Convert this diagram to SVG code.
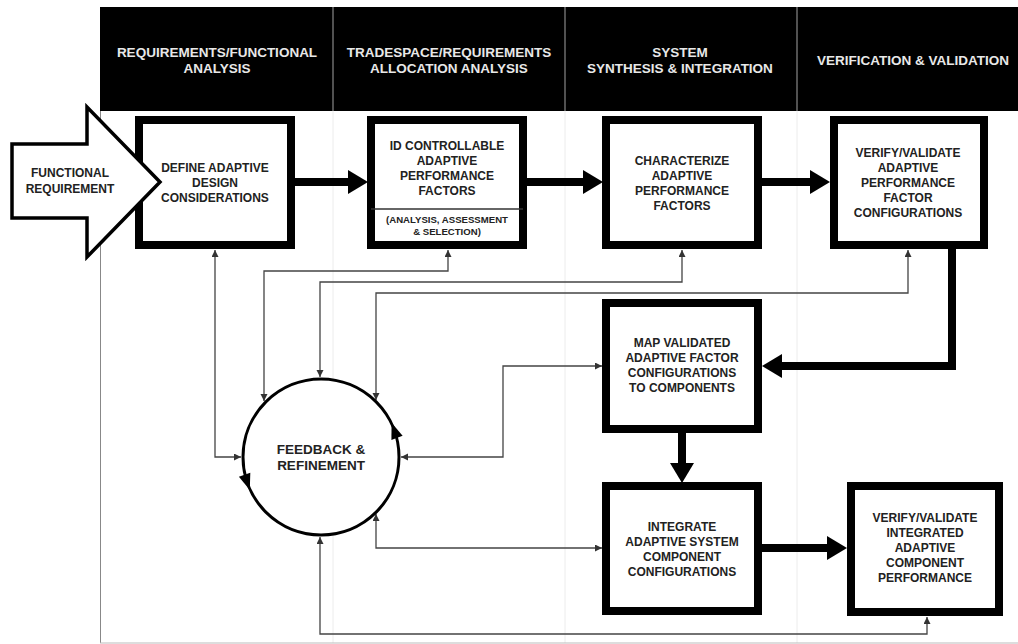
<svg xmlns="http://www.w3.org/2000/svg" width="1018" height="644" viewBox="0 0 1018 644">
<style>
.hdr{font-family:"Liberation Sans",Arial,sans-serif;font-weight:bold;font-size:13.5px;fill:#e8e8e8;text-anchor:middle}
.t{font-family:"Liberation Sans",Arial,sans-serif;font-weight:bold;font-size:12px;fill:#222;text-anchor:middle}
.s{font-family:"Liberation Sans",Arial,sans-serif;font-weight:bold;font-size:9.6px;fill:#222;text-anchor:middle}
.c{font-family:"Liberation Sans",Arial,sans-serif;font-weight:bold;font-size:13.5px;fill:#222;text-anchor:middle}
.box{fill:#fff;stroke:#000;stroke-width:8}
.thick{fill:none;stroke:#000;stroke-width:8;stroke-linejoin:miter}
.thin{fill:none;stroke:#444;stroke-width:1.3}
.lane{stroke:#ececec;stroke-width:1}
</style>
<defs>
<marker id="big" markerUnits="userSpaceOnUse" markerWidth="20" markerHeight="24" refX="0" refY="12" orient="auto">
<path d="M0,0 L20,12 L0,24 z" fill="#000"/>
</marker>
<marker id="sm" markerUnits="userSpaceOnUse" markerWidth="8" markerHeight="8" refX="7" refY="3.5" orient="auto-start-reverse">
<path d="M0,0 L7,3.5 L0,7 z" fill="#333"/>
</marker>
</defs>
<rect x="0" y="0" width="1018" height="644" fill="#fff"/>
<g id="frame">
<line class="lane" x1="333" y1="111" x2="333" y2="643"/>
<line class="lane" x1="565" y1="111" x2="565" y2="643"/>
<line class="lane" x1="797" y1="111" x2="797" y2="643"/>
<line x1="100.5" y1="7" x2="100.5" y2="643" stroke="#888" stroke-width="1"/>
<line x1="100" y1="643" x2="1018" y2="643" stroke="#bbb" stroke-width="1"/>
</g>
<g id="header">
<rect x="100" y="7" width="918" height="104" fill="#000"/>
<line x1="333" y1="7" x2="333" y2="111" stroke="#888" stroke-width="1.2"/>
<line x1="565" y1="7" x2="565" y2="111" stroke="#888" stroke-width="1.2"/>
<line x1="797" y1="7" x2="797" y2="111" stroke="#888" stroke-width="1.2"/>
<text class="hdr" x="217" y="56.8">REQUIREMENTS/FUNCTIONAL</text>
<text class="hdr" x="217" y="72.8">ANALYSIS</text>
<text class="hdr" x="449" y="56.8">TRADESPACE/REQUIREMENTS</text>
<text class="hdr" x="449" y="72.8">ALLOCATION ANALYSIS</text>
<text class="hdr" x="680" y="56.8">SYSTEM</text>
<text class="hdr" x="680" y="72.8">SYNTHESIS &amp; INTEGRATION</text>
<text class="hdr" x="913" y="64.8">VERIFICATION &amp; VALIDATION</text>
</g>
<g id="connectors">
<path class="thick" d="M295,182 L348,182" marker-end="url(#big)"/>
<path class="thick" d="M527,182 L583,182" marker-end="url(#big)"/>
<path class="thick" d="M762,182 L810,182" marker-end="url(#big)"/>
<path class="thick" d="M952,249 L952,366 L782,366" marker-end="url(#big)"/>
<path class="thick" d="M682,433 L682,463" marker-end="url(#big)"/>
<path class="thick" d="M762,548 L827,548" marker-end="url(#big)"/>
<path class="thin" d="M215,250 L215,457 L241,457" marker-start="url(#sm)" marker-end="url(#sm)"/>
<path class="thin" d="M448,250 L448,271 L264,271 L264,401" marker-start="url(#sm)" marker-end="url(#sm)"/>
<path class="thin" d="M682,250 L682,282 L320,282 L320,377" marker-start="url(#sm)" marker-end="url(#sm)"/>
<path class="thin" d="M908,250 L908,293 L376,293 L376,400" marker-start="url(#sm)" marker-end="url(#sm)"/>
<path class="thin" d="M602,366 L503,366 L503,457 L401,457" marker-start="url(#sm)" marker-end="url(#sm)"/>
<path class="thin" d="M602,548 L376,548 L376,514" marker-start="url(#sm)" marker-end="url(#sm)"/>
<path class="thin" d="M927,617 L927,634 L320,634 L320,537" marker-start="url(#sm)" marker-end="url(#sm)"/>
</g>
<g id="define">
<rect class="box" x="139" y="120" width="152" height="125"/>
<text class="t" x="215" y="172.3">DEFINE ADAPTIVE</text>
<text class="t" x="215" y="187.3">DESIGN</text>
<text class="t" x="215" y="202.3">CONSIDERATIONS</text>
</g>
<g id="functional-requirement">
<polygon points="12,144 87,144 87,107 160,182 87,257 87,218 12,218" fill="#fff" stroke="#000" stroke-width="3.5" stroke-linejoin="miter"/>
<text class="t" x="70" y="177.3">FUNCTIONAL</text>
<text class="t" x="70" y="193.3">REQUIREMENT</text>
</g>
<g id="id-controllable">
<rect class="box" x="371" y="120" width="152" height="125"/>
<line x1="371" y1="209" x2="523" y2="209" stroke="#333" stroke-width="1.5"/>
<text class="t" x="447" y="150.3">ID CONTROLLABLE</text>
<text class="t" x="447" y="165.3">ADAPTIVE</text>
<text class="t" x="447" y="180.3">PERFORMANCE</text>
<text class="t" x="447" y="195.3">FACTORS</text>
<text class="s" x="447" y="222.5">(ANALYSIS, ASSESSMENT</text>
<text class="s" x="447" y="234.5">&amp; SELECTION)</text>
</g>
<g id="characterize">
<rect class="box" x="606" y="120" width="152" height="125"/>
<text class="t" x="682" y="165.3">CHARACTERIZE</text>
<text class="t" x="682" y="180.3">ADAPTIVE</text>
<text class="t" x="682" y="195.3">PERFORMANCE</text>
<text class="t" x="682" y="210.3">FACTORS</text>
</g>
<g id="verify-factors">
<rect class="box" x="834" y="120" width="150" height="125"/>
<text class="t" x="908" y="157.3">VERIFY/VALIDATE</text>
<text class="t" x="908" y="172.3">ADAPTIVE</text>
<text class="t" x="908" y="187.3">PERFORMANCE</text>
<text class="t" x="908" y="202.3">FACTOR</text>
<text class="t" x="908" y="217.3">CONFIGURATIONS</text>
</g>
<g id="map">
<rect class="box" x="606" y="303" width="152" height="126"/>
<text class="t" x="682" y="347.3">MAP VALIDATED</text>
<text class="t" x="682" y="362.3">ADAPTIVE FACTOR</text>
<text class="t" x="682" y="377.3">CONFIGURATIONS</text>
<text class="t" x="682" y="392.3">TO COMPONENTS</text>
</g>
<g id="integrate">
<rect class="box" x="606" y="486" width="152" height="125"/>
<text class="t" x="682" y="531.3">INTEGRATE</text>
<text class="t" x="682" y="546.3">ADAPTIVE SYSTEM</text>
<text class="t" x="682" y="561.3">COMPONENT</text>
<text class="t" x="682" y="576.3">CONFIGURATIONS</text>
</g>
<g id="verify-integrated">
<rect class="box" x="851" y="486" width="148" height="126"/>
<text class="t" x="925" y="522.3">VERIFY/VALIDATE</text>
<text class="t" x="925" y="537.3">INTEGRATED</text>
<text class="t" x="925" y="552.3">ADAPTIVE</text>
<text class="t" x="925" y="567.3">COMPONENT</text>
<text class="t" x="925" y="582.3">PERFORMANCE</text>
</g>
<g id="feedback">
<circle cx="321" cy="457" r="78" fill="#fff" stroke="#000" stroke-width="3"/>
<polygon points="391.6,422.8 402.6,435.7 391.4,439.9" fill="#000"/>
<polygon points="249.8,490 250.3,472.8 238.9,476.8" fill="#000"/>
<text class="c" x="321" y="453.8">FEEDBACK &amp;</text>
<text class="c" x="321" y="469.8">REFINEMENT</text>
</g>
</svg>
